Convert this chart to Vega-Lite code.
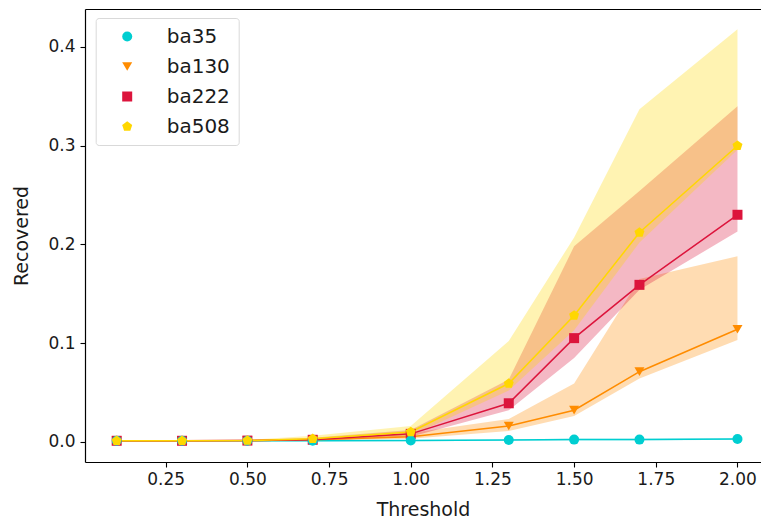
{
  "$schema": "https://vega.github.io/schema/vega-lite/v6.json",
  "width": 676,
  "height": 453,
  "autosize": {"type": "none"},
  "padding": {"left": 85, "top": 9, "right": 0, "bottom": 61},
  "config": {
    "view": {"stroke": null},
    "font": "DejaVu Sans",
    "axis": {
      "domainColor": "#000000",
      "domainWidth": 1.2,
      "tickColor": "#000000",
      "tickWidth": 1.1,
      "tickSize": 5,
      "labelFont": "DejaVu Sans",
      "labelFontSize": 17,
      "labelColor": "#1a1a1a",
      "titleFont": "DejaVu Sans",
      "titleFontSize": 19,
      "titleFontWeight": "normal",
      "titleColor": "#1a1a1a",
      "grid": false
    }
  },
  "data": {
    "values": [
      {"s": "ba35", "x": 0.1, "y": 0.001, "lo": 0.0004, "hi": 0.0016},
      {"s": "ba35", "x": 0.3, "y": 0.001, "lo": 0.0004, "hi": 0.0016},
      {"s": "ba35", "x": 0.5, "y": 0.001, "lo": 0.0004, "hi": 0.0016},
      {"s": "ba35", "x": 0.7, "y": 0.001, "lo": 0.0004, "hi": 0.0016},
      {"s": "ba35", "x": 1.0, "y": 0.0012, "lo": 0.0005, "hi": 0.0019},
      {"s": "ba35", "x": 1.3, "y": 0.0018, "lo": 0.001, "hi": 0.0026},
      {"s": "ba35", "x": 1.5, "y": 0.0022, "lo": 0.0014, "hi": 0.003},
      {"s": "ba35", "x": 1.7, "y": 0.0022, "lo": 0.0014, "hi": 0.003},
      {"s": "ba35", "x": 2.0, "y": 0.0028, "lo": 0.002, "hi": 0.0036},
      {"s": "ba130", "x": 0.1, "y": 0.001, "lo": 0.0005, "hi": 0.0015},
      {"s": "ba130", "x": 0.3, "y": 0.001, "lo": 0.0005, "hi": 0.0015},
      {"s": "ba130", "x": 0.5, "y": 0.0012, "lo": 0.0006, "hi": 0.0018},
      {"s": "ba130", "x": 0.7, "y": 0.002, "lo": 0.001, "hi": 0.003},
      {"s": "ba130", "x": 1.0, "y": 0.005, "lo": 0.003, "hi": 0.009},
      {"s": "ba130", "x": 1.3, "y": 0.016, "lo": 0.011, "hi": 0.023},
      {"s": "ba130", "x": 1.5, "y": 0.032, "lo": 0.026, "hi": 0.059},
      {"s": "ba130", "x": 1.7, "y": 0.071, "lo": 0.064, "hi": 0.165},
      {"s": "ba130", "x": 2.0, "y": 0.114, "lo": 0.103, "hi": 0.188},
      {"s": "ba222", "x": 0.1, "y": 0.001, "lo": 0.0005, "hi": 0.0015},
      {"s": "ba222", "x": 0.3, "y": 0.001, "lo": 0.0005, "hi": 0.0015},
      {"s": "ba222", "x": 0.5, "y": 0.0012, "lo": 0.0006, "hi": 0.0018},
      {"s": "ba222", "x": 0.7, "y": 0.002, "lo": 0.001, "hi": 0.004},
      {"s": "ba222", "x": 1.0, "y": 0.008, "lo": 0.005, "hi": 0.012},
      {"s": "ba222", "x": 1.3, "y": 0.039, "lo": 0.032, "hi": 0.063},
      {"s": "ba222", "x": 1.5, "y": 0.105, "lo": 0.085, "hi": 0.198},
      {"s": "ba222", "x": 1.7, "y": 0.159, "lo": 0.154, "hi": 0.254},
      {"s": "ba222", "x": 2.0, "y": 0.23, "lo": 0.213, "hi": 0.34},
      {"s": "ba508", "x": 0.1, "y": 0.001, "lo": 0.0005, "hi": 0.0015},
      {"s": "ba508", "x": 0.3, "y": 0.001, "lo": 0.0005, "hi": 0.0015},
      {"s": "ba508", "x": 0.5, "y": 0.0012, "lo": 0.0006, "hi": 0.0018},
      {"s": "ba508", "x": 0.7, "y": 0.003, "lo": 0.001, "hi": 0.006},
      {"s": "ba508", "x": 1.0, "y": 0.01, "lo": 0.006, "hi": 0.016},
      {"s": "ba508", "x": 1.3, "y": 0.059, "lo": 0.052, "hi": 0.102},
      {"s": "ba508", "x": 1.5, "y": 0.128, "lo": 0.113, "hi": 0.207},
      {"s": "ba508", "x": 1.7, "y": 0.212, "lo": 0.202, "hi": 0.337},
      {"s": "ba508", "x": 2.0, "y": 0.3, "lo": 0.296, "hi": 0.418}
    ]
  },
  "resolve": {"axis": {"x": "independent", "y": "independent"}, "legend": {"color": "independent", "shape": "independent"}},
  "layer": [
    {
      "mark": {"type": "area", "opacity": 0.3, "clip": true},
      "encoding": {
        "x": {
          "field": "x", "type": "quantitative",
          "scale": {"domain": [0.003, 2.072], "nice": false, "zero": false},
          "axis": {"values": [0.25, 0.5, 0.75, 1.0, 1.25, 1.5, 1.75, 2.0], "format": ".2f", "title": "Threshold", "labelPadding": 4, "titlePadding": 13}
        },
        "y": {
          "field": "lo", "type": "quantitative",
          "scale": {"domain": [-0.0205, 0.4385], "nice": false, "zero": false},
          "axis": {"values": [0, 0.1, 0.2, 0.3, 0.4], "format": ".1f", "title": "Recovered", "labelPadding": 5, "titlePadding": 16}
        },
        "y2": {"field": "hi"},
        "color": {
          "field": "s", "type": "nominal",
          "scale": {"domain": ["ba35", "ba130", "ba222", "ba508"], "range": ["#00CED1", "#FF8C00", "#DC143C", "#FFD700"]},
          "legend": null
        },
        "detail": {"field": "s"}
      }
    },
    {
      "mark": {"type": "line", "strokeWidth": 1.5, "clip": true},
      "encoding": {
        "x": {"field": "x", "type": "quantitative", "axis": null},
        "y": {"field": "y", "type": "quantitative", "axis": null},
        "color": {"field": "s", "type": "nominal", "legend": null}
      }
    },
    {
      "mark": {"type": "point", "filled": true, "opacity": 1, "size": 100, "clip": true},
      "encoding": {
        "x": {"field": "x", "type": "quantitative", "axis": {"orient": "top", "labels": false, "ticks": false, "title": null, "domainWidth": 1.2}},
        "y": {"field": "y", "type": "quantitative", "axis": null},
        "color": {
          "field": "s", "type": "nominal",
          "legend": {
            "orient": "none", "legendX": 10.7, "legendY": 9, "title": null,
            "labelFontSize": 20, "labelFont": "DejaVu Sans", "labelColor": "#1a1a1a",
            "padding": 8.5, "symbolOffset": 13, "labelOffset": 29.5, "rowPadding": 10,
            "strokeColor": "#d9d9d9", "fillColor": "#ffffff", "cornerRadius": 3,
            "symbolSize": 100, "symbolStrokeWidth": 0
          }
        },
        "shape": {
          "field": "s", "type": "nominal",
          "scale": {"domain": ["ba35", "ba130", "ba222", "ba508"], "range": ["circle", "triangle-down", "square", "M0,-1.05L1,-0.32L0.62,0.85L-0.62,0.85L-1,-0.32Z"]},
          "legend": {
            "orient": "none", "legendX": 10.7, "legendY": 9, "title": null,
            "labelFontSize": 20, "labelFont": "DejaVu Sans", "labelColor": "#1a1a1a",
            "padding": 8.5, "symbolOffset": 13, "labelOffset": 29.5, "rowPadding": 10,
            "strokeColor": "#d9d9d9", "fillColor": "#ffffff", "cornerRadius": 3,
            "symbolSize": 100, "symbolStrokeWidth": 0
          }
        },
        "order": {"field": "s"}
      }
    }
  ]
}
